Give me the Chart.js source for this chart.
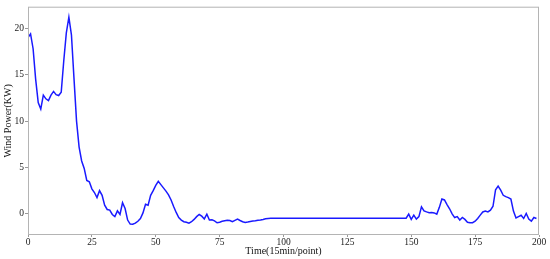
<!DOCTYPE html>
<html lang="en">
<head>
    <meta charset="UTF-8">
    <title>Wind Power</title>
    <script src="https://cdn.jsdelivr.net/npm/chart.js"></script>
    <style>
        * { margin: 0; padding: 0; box-sizing: border-box; }
        html, body { width: 550px; height: 259px; background: #fff; overflow: hidden; }
        .chart-container { position: relative; width: 550px; height: 259px; }
    </style>
</head>
<body>
    <div class="chart-container">
        <canvas id="myChart"></canvas>
    </div>
    <script>
        // 数据：每15分钟一个点，共200个点
        var windPower = [
            19.0, 19.4, 17.8, 14.5, 12.0, 11.3, 12.8, 12.4, 12.2, 12.8,
            13.2, 12.85, 12.75, 13.1, 16.5, 19.5, 21.2, 19.3, 14.6, 10.0,
            7.2, 5.7, 4.9, 3.6, 3.45, 2.7, 2.3, 1.75, 2.5, 2.0,
            0.93, 0.47, 0.4, -0.07, -0.3, 0.32, -0.07, 1.2, 0.58, -0.67,
            -1.1, -1.12, -1.0, -0.8, -0.5, 0.1, 1.04, 0.93, 2.0, 2.5,
            3.07, 3.5, 3.15, 2.8, 2.45, 2.05, 1.5, 0.8, 0.15, -0.4,
            -0.67, -0.85, -0.9, -1.0, -0.85, -0.6, -0.3, -0.07, -0.25, -0.55,
            -0.03, -0.67, -0.65, -0.75, -0.96, -0.9, -0.8, -0.75, -0.7, -0.72,
            -0.85, -0.7, -0.57, -0.72, -0.85, -0.92, -0.88, -0.83, -0.78, -0.75,
            -0.7, -0.66, -0.6, -0.52, -0.49, -0.48, -0.48, -0.48, -0.48, -0.48,
            -0.47, -0.47, -0.47, -0.47, -0.47, -0.47, -0.47, -0.47, -0.47, -0.47,
            -0.47, -0.47, -0.47, -0.47, -0.47, -0.47, -0.47, -0.47, -0.47, -0.47,
            -0.47, -0.47, -0.47, -0.47, -0.47, -0.47, -0.47, -0.47, -0.47, -0.47,
            -0.47, -0.47, -0.47, -0.47, -0.47, -0.47, -0.47, -0.47, -0.47, -0.47,
            -0.47, -0.47, -0.47, -0.47, -0.47, -0.47, -0.47, -0.47, -0.47, -0.03,
            -0.6, -0.14, -0.57, -0.3, 0.75, 0.32, 0.21, 0.12, 0.15, 0.1,
            -0.03, 0.7, 1.6, 1.5, 1.0, 0.55, 0.0, -0.4, -0.3, -0.67,
            -0.39, -0.6, -0.9, -0.96, -0.96, -0.8, -0.5, -0.14, 0.2, 0.3,
            0.21, 0.4, 0.82, 2.6, 3.0, 2.55, 2.0, 1.85, 1.75, 1.6,
            0.3, -0.45, -0.3, -0.15, -0.5, 0.04, -0.57, -0.78, -0.39, -0.5
        ];
        var xTicks = [0, 25, 50, 75, 100, 125, 150, 175, 200];
        var yTicks = [0, 5, 10, 15, 20];

        var points = windPower.map(function (v, i) {
            return { x: i, y: v };
        });

        var serif = '"Liberation Serif", "Times New Roman", serif';

        // 画四周的灰色边框
        var framePlugin = {
            id: 'frame',
            afterDatasetsDraw: function (chart) {
                var a = chart.chartArea;
                var c = chart.ctx;
                c.save();
                c.strokeStyle = '#b4b4b4';
                c.lineWidth = 1;
                c.strokeRect(a.left + 0.5, a.top + 0.5, a.right - a.left - 1, a.bottom - a.top - 1);
                c.restore();
            }
        };

        var ctx = document.getElementById('myChart').getContext('2d');
        var myChart = new Chart(ctx, {
            type: 'line',
            data: {
                datasets: [{
                    data: points,
                    borderColor: '#1a1aff',
                    borderWidth: 1.5,
                    pointRadius: 0,
                    fill: false,
                    tension: 0
                }]
            },
            options: {
                responsive: true,
                maintainAspectRatio: false,
                animation: false,
                layout: { padding: { top: 4.5, right: 11, left: 0, bottom: 0 } },
                plugins: {
                    legend: { display: false },
                    tooltip: { enabled: false }
                },
                scales: {
                    x: {
                        type: 'linear',
                        min: 0,
                        max: 200,
                        afterBuildTicks: function (scale) {
                            scale.ticks = xTicks.map(function (v) { return { value: v }; });
                        },
                        afterFit: function (scale) { scale.height = 24; },
                        border: { display: false },
                        grid: { drawOnChartArea: false, drawTicks: true, tickLength: 2, color: '#999' },
                        ticks: {
                            padding: 0,
                            maxRotation: 0,
                            color: '#222',
                            font: { family: serif, size: 9.5 }
                        },
                        title: {
                            display: true,
                            text: 'Time(15min/point)',
                            color: '#111',
                            padding: { top: 0, bottom: 2 },
                            font: { family: serif, size: 10 }
                        }
                    },
                    y: {
                        min: -2.28,
                        max: 22.33,
                        afterBuildTicks: function (scale) {
                            scale.ticks = yTicks.map(function (v) { return { value: v }; });
                        },
                        afterFit: function (scale) { scale.width = 28; },
                        border: { display: false },
                        grid: { drawOnChartArea: false, drawTicks: true, tickLength: 3, color: '#999' },
                        ticks: {
                            padding: 1,
                            color: '#222',
                            font: { family: serif, size: 9.5 }
                        },
                        title: {
                            display: true,
                            text: 'Wind Power(KW)',
                            color: '#111',
                            padding: { top: 2, bottom: 0 },
                            font: { family: serif, size: 10 }
                        }
                    }
                }
            },
            plugins: [framePlugin]
        });
    </script>
</body>
</html>
